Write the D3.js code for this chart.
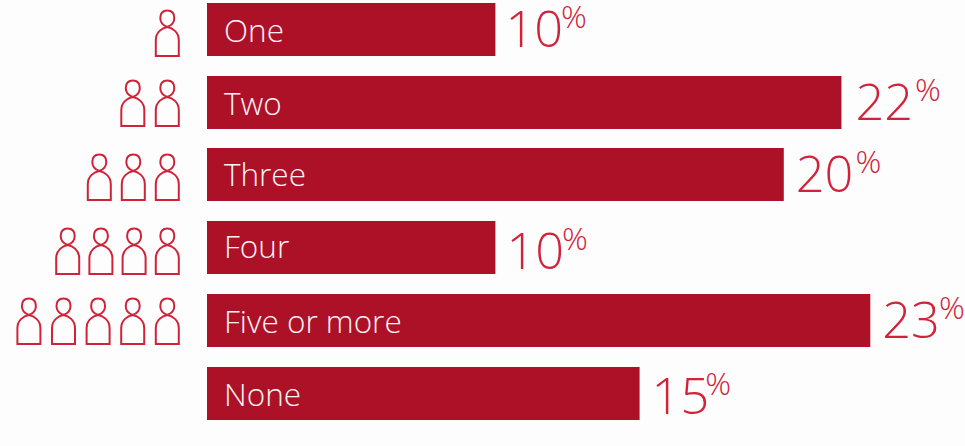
<!DOCTYPE html>
<html>
<head>
<meta charset="utf-8">
<script src="https://cdn.jsdelivr.net/npm/d3@7"></script>
<style>
  html, body { margin: 0; padding: 0; background: #fdfdfd; }
  svg { display: block; }
  text { font-family: "Open Sans", sans-serif; font-weight: 300; }
</style>
</head>
<body>
<svg id="chart" width="965" height="446"></svg>
<script>
// Household size shares
const categories = ["One", "Two", "Three", "Four", "Five or more", "None"];
const shares = [10, 22, 20, 10, 23, 15];
const peopleCounts = [1, 2, 3, 4, 5, 0];

const barColor = "#ad1128";
const accent = "#d0233a";

const svg = d3.select("#chart");

const x = d3.scaleLinear().domain([0, 23]).range([207, 870.3]);
const y = d3.scaleBand().domain(categories).range([3, 419.5]).paddingInner(0.271).paddingOuter(0);
const barHeight = Math.round(y.bandwidth());

// Per-row fine adjustments: icon spacing, icon drop, text offsets
const iconPitch = { "One": 34, "Two": 34.5, "Three": 34, "Four": 33.2, "Five or more": 34.6 };
const iconNudge = { "One": 7, "Two": 4, "Three": 6, "Four": 7, "Five or more": 4 };
const nameDrop = { "One": 12, "Two": 12, "Three": 11, "Four": 10, "Five or more": 12, "None": 12 };
const valueGap = { "One": 10, "Two": 14, "Three": 12, "Four": 11, "Five or more": 12, "None": 12 };
const valueDrop = { "One": 17, "Two": 17, "Three": 17, "Four": 21, "Five or more": 17, "None": 20 };
const percentShift = { "One": -2, "Two": 2, "Three": 2, "Four": -2, "Five or more": -1, "None": -4 };

const rows = svg.selectAll("g.row")
  .data(categories.map((c, i) => ({ name: c, share: shares[i], people: peopleCounts[i] })))
  .join("g")
  .attr("class", "row")
  .attr("transform", d => `translate(0,${Math.round(y(d.name))})`);

rows.append("rect")
  .attr("x", x(0))
  .attr("width", d => x(d.share) - x(0))
  .attr("height", barHeight)
  .attr("fill", barColor);

rows.append("text")
  .attr("x", x(0) + 17)
  .attr("y", d => barHeight / 2 + nameDrop[d.name])
  .attr("font-size", 31.5)
  .attr("fill", "#fdf3f4")
  .text(d => d.name);

const valueLabels = rows.append("text")
  .attr("x", d => x(d.share) + valueGap[d.name])
  .attr("y", d => barHeight / 2 + valueDrop[d.name])
  .attr("font-size", 50.5)
  .attr("fill", accent);
valueLabels.append("tspan").text(d => d.share);
valueLabels.append("tspan")
  .attr("font-size", 32)
  .attr("dx", d => percentShift[d.name])
  .attr("dy", -19)
  .text("%");

// Outline figure: head plus rounded torso, origin at the top centre
const figure = d3.path();
figure.moveTo(-11.5, 46);
figure.lineTo(-11.5, 30);
figure.bezierCurveTo(-11.5, 22, -5, 18, 0, 17);
figure.bezierCurveTo(5, 18, 11.5, 22, 11.5, 30);
figure.lineTo(11.5, 46);
figure.closePath();
figure.moveTo(0, 17);
figure.bezierCurveTo(-4, 15.5, -7, 12, -7, 8);
figure.bezierCurveTo(-7, 3, -4, 0.5, 0, 0.5);
figure.bezierCurveTo(4, 0.5, 7, 3, 7, 8);
figure.bezierCurveTo(7, 12, 4, 15.5, 0, 17);

rows.each(function (d) {
  const slots = d3.range(d.people);
  d3.select(this).selectAll("path.person")
    .data(slots)
    .join("path")
    .attr("class", "person")
    .attr("d", figure.toString())
    .attr("fill", "none")
    .attr("stroke", accent)
    .attr("stroke-width", 2)
    .attr("transform", k => `translate(${167.3 - k * iconPitch[d.name]},${iconNudge[d.name]})`);
});
</script>
</body>
</html>
